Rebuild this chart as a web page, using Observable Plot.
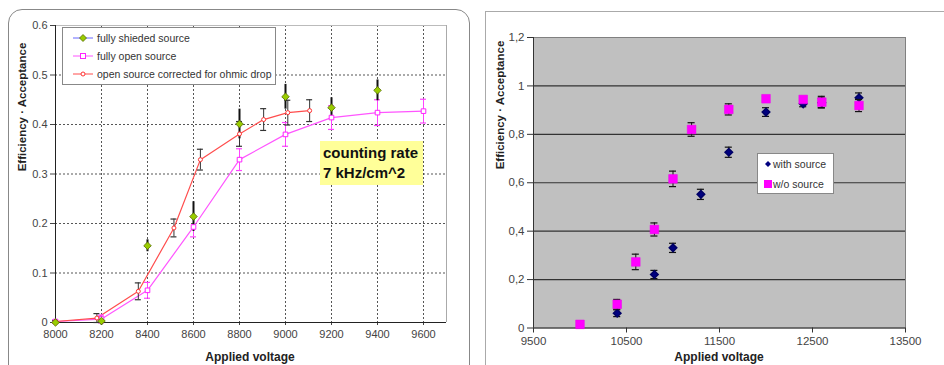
<!DOCTYPE html>
<html><head><meta charset="utf-8">
<script src="https://cdn.jsdelivr.net/npm/d3@7"></script>
<script src="https://cdn.jsdelivr.net/npm/@observablehq/plot@0.6"></script>
<style>
body{margin:0;background:#fff;font-family:"Liberation Sans",Arial,sans-serif;}
#wrap{position:relative;width:944px;height:365px;overflow:hidden;background:#fff;}
.abs{position:absolute;}
.ytitle{position:absolute;transform:translate(-50%,-50%) rotate(-90deg);white-space:nowrap;font-weight:bold;font-size:11.5px;color:#222;}
.xtitle{position:absolute;transform:translate(-50%,-50%);white-space:nowrap;font-weight:bold;font-size:12px;color:#222;}
.leg{position:absolute;background:#fff;border:1px solid #888;font-size:10.5px;color:#333;}
</style></head><body><div id="wrap">
<div class="abs" style="left:8px;top:9px;width:460px;height:400px;border:1px solid #888;border-radius:14px;"></div>
<div class="abs" style="left:485px;top:11px;width:500px;height:400px;border:1px solid #aaa;"></div>
</div>
<script>
// ---------- Left panel data ----------
const leftTicksX = [8000,8200,8400,8600,8800,9000,9200,9400,9600];
const leftTicksY = [0,0.1,0.2,0.3,0.4,0.5,0.6];
const leftSeries = ["fully shieded source","fully open source","open source corrected for ohmic drop"];
const shieldedVoltage = [8000,8200,8400,8600,8800,9000,9200,9400];
const shieldedEff = [0.0,0.003,0.155,0.214,0.401,0.456,0.434,0.469];
const shieldedErr = [0.002,0.008,0.012,0.03,0.03,0.025,0.02,0.021];
const openVoltage = [8000,8200,8400,8600,8800,9000,9200,9400,9600];
const openEff = [0.002,0.007,0.065,0.193,0.329,0.380,0.414,0.424,0.427];
const openErr = [0.003,0.008,0.016,0.02,0.022,0.024,0.024,0.026,0.024];
const corrVoltage = [8000,8180,8360,8515,8630,8800,8905,9010,9105];
const corrEff = [0.002,0.009,0.063,0.191,0.329,0.381,0.410,0.424,0.428];
const corrErr = [0.002,0.009,0.017,0.018,0.021,0.025,0.022,0.025,0.022];

// ---------- Right panel data ----------
const rightTicksX = [9500,10500,11500,12500,13500];
const rightTicksY = [0,0.2,0.4,0.6,0.8,1.0,1.2];
const rightSeries = ["with source","w/o source"];
const withVoltage = [10400,10800,11000,11300,11600,12000,12400,12600,13000];
const withEff = [0.061,0.221,0.331,0.552,0.726,0.892,0.926,0.930,0.951];
const withErr = [0.014,0.017,0.019,0.021,0.021,0.018,0.012,0.02,0.02];
const woVoltage = [10000,10400,10600,10800,11000,11200,11600,12000,12400,12600,13000];
const woEff = [0.015,0.098,0.273,0.407,0.616,0.820,0.903,0.947,0.944,0.933,0.919];
const woErr = [0.0,0.02,0.032,0.027,0.032,0.028,0.023,0.01,0.01,0.024,0.025];

const rows = (xs, ys, es) => xs.map((x,i)=>({x, y:ys[i], e:es[i]}));
const shielded = rows(shieldedVoltage, shieldedEff, shieldedErr);
const open = rows(openVoltage, openEff, openErr);
const corr = rows(corrVoltage, corrEff, corrErr);
const withS = rows(withVoltage, withEff, withErr);
const woS = rows(woVoltage, woEff, woErr);

function errBars(data, stroke, capHalf, sw=1){
  const d = data.filter(r=>r.e>0);
  const out = [Plot.ruleX(d,{x:"x",y1:r=>r.y-r.e,y2:r=>r.y+r.e,stroke,strokeWidth:sw})];
  if (capHalf>0){
    out.push(Plot.ruleY(d,{y:r=>r.y-r.e,x1:r=>r.x-capHalf,x2:r=>r.x+capHalf,stroke,strokeWidth:1.2}));
    out.push(Plot.ruleY(d,{y:r=>r.y+r.e,x1:r=>r.x-capHalf,x2:r=>r.x+capHalf,stroke,strokeWidth:1.2}));
  }
  return out;
}

const font = "Liberation Sans, Arial, sans-serif";
const left = Plot.plot({
  width:470, height:365, marginLeft:55, marginRight:24, marginTop:25, marginBottom:43,
  style:{background:"transparent", fontFamily:font, fontSize:"11px", color:"#444", overflow:"visible"},
  x:{domain:[8000,9700]},
  y:{domain:[0,0.6]},
  marks:[
    Plot.gridX(leftTicksX.slice(1),{stroke:"#444",strokeOpacity:0.9,strokeDasharray:"2,2"}),
    Plot.gridY(leftTicksY.slice(1,-1),{stroke:"#444",strokeOpacity:0.9,strokeDasharray:"2,2",x1:8000,x2:9700}),
    Plot.ruleX([9700],{stroke:"#aaa"}),
    Plot.ruleY([0.6],{stroke:"#bbb"}),
    Plot.axisX(leftTicksX,{tickSize:3,tickPadding:5,label:null,tickFormat:d=>String(d),fill:"#444"}),
    Plot.axisY(leftTicksY,{tickSize:5,tickPadding:3,label:null,tickFormat:d=>String(+d.toFixed(1)),fill:"#444"}),
    Plot.ruleX([8000],{stroke:"#222"}),
    Plot.ruleY([0],{stroke:"#222"}),
    Plot.line(open,{x:"x",y:"y",stroke:"#ff55ff",strokeWidth:1.2}),
    Plot.line(corr,{x:"x",y:"y",stroke:"#ff4d4d",strokeWidth:1.2}),
    ...errBars(open,"#ff44ff",13),
    ...errBars(corr,"#333",13),
    ...errBars(shielded,"#111",0,2),
    Plot.dot(open,{x:"x",y:"y",symbol:"square",r:2.6,stroke:"#ff22ff",fill:"#fff",strokeWidth:1}),
    Plot.dot(corr,{x:"x",y:"y",r:2,stroke:"#ff3333",fill:"#fff",strokeWidth:1}),
    Plot.dot(shielded,{x:"x",y:"y",symbol:"diamond2",r:3.4,fill:"#99cc00",stroke:"#556b00",strokeWidth:0.8})
  ]
});
left.style.position="absolute"; left.style.left="0px"; left.style.top="0px";

const right = Plot.plot({
  width:466, height:365, marginLeft:55, marginRight:39, marginTop:37, marginBottom:37.5,
  style:{background:"transparent", fontFamily:font, fontSize:"11.5px", color:"#333", overflow:"visible"},
  x:{domain:[9500,13500]},
  y:{domain:[0,1.2]},
  marks:[
    Plot.frame({fill:"#c0c0c0",stroke:"#808080"}),
    Plot.gridY(rightTicksY.slice(1,-1),{stroke:"#333",strokeOpacity:1,strokeWidth:1.2}),
    Plot.axisX(rightTicksX,{tickSize:5,tickPadding:4,label:null,tickFormat:d=>String(d),fill:"#444"}),
    Plot.axisY(rightTicksY,{tickSize:6,tickPadding:3,label:null,tickFormat:d=>String(+d.toFixed(1)).replace(".",","),fill:"#444"}),
    Plot.ruleX([9500],{stroke:"#333"}),
    Plot.ruleY([0],{stroke:"#333"}),
    ...errBars(withS,"#111",38),
    Plot.dot(withS,{x:"x",y:"y",symbol:"diamond2",r:3.4,fill:"#000080",stroke:"#000066"}),
    ...errBars(woS,"#111",38),
    Plot.dot(woS,{x:"x",y:"y",symbol:"square",r:4.9,fill:"#ff00ff",stroke:"#ee00ee",strokeWidth:0.5})
  ]
});
right.style.position="absolute"; right.style.left="478px"; right.style.top="0px";

const wrap = document.getElementById("wrap");
wrap.appendChild(left);
wrap.appendChild(right);

function addDiv(cls, css, html){
  const d = document.createElement("div");
  d.className = cls; d.style.cssText = css; d.innerHTML = html;
  wrap.appendChild(d); return d;
}
// axis titles
addDiv("ytitle","left:22px;top:107px;","Efficiency · Acceptance");
addDiv("ytitle","left:500px;top:105px;","Efficiency · Acceptance");
addDiv("xtitle","left:250px;top:357px;","Applied voltage");
addDiv("xtitle","left:719px;top:357px;","Applied voltage");

// left legend
const legL = [
  `<svg width="22" height="10"><line x1="1" y1="5" x2="21" y2="5" stroke="#6666ff"/><path d="M11,1.5L14.5,5L11,8.5L7.5,5Z" fill="#99cc00" stroke="#556b00" stroke-width="0.8"/></svg>`,
  `<svg width="22" height="10"><line x1="1" y1="5" x2="21" y2="5" stroke="#ff55ff"/><rect x="8.5" y="2.5" width="5" height="5" fill="#fff" stroke="#ff22ff"/></svg>`,
  `<svg width="22" height="10"><line x1="1" y1="5" x2="21" y2="5" stroke="#ff4d4d"/><circle cx="11" cy="5" r="2" fill="#fff" stroke="#ff3333"/></svg>`
];
addDiv("leg","left:62px;top:27px;width:212px;height:56px;",
  leftSeries.map((s,i)=>`<div style="position:absolute;left:9px;top:${4+i*18}px;height:12px;display:flex;align-items:center;white-space:nowrap;">${legL[i]}<span style="margin-left:3px;">${s}</span></div>`).join(""));

// right legend
const legR = [
  `<svg width="8" height="10"><path d="M4,2L7,5L4,8L1,5Z" fill="#000080"/></svg>`,
  `<svg width="8" height="10"><rect x="0" y="1" width="8" height="8" fill="#ff00ff"/></svg>`
];
addDiv("leg","left:757px;top:153px;width:75px;height:39px;",
  rightSeries.map((s,i)=>`<div style="position:absolute;left:6px;top:${4+i*20}px;height:12px;display:flex;align-items:center;white-space:nowrap;">${legR[i]}<span style="margin-left:1px;">${s}</span></div>`).join(""));

// annotation
addDiv("abs","left:320px;top:141px;width:103px;height:44px;background:#ffff99;font-weight:bold;font-size:15px;color:#111;line-height:20px;padding:2px 0 0 3px;box-sizing:border-box;","counting rate<br>7 kHz/cm^2");
</script></body></html>
